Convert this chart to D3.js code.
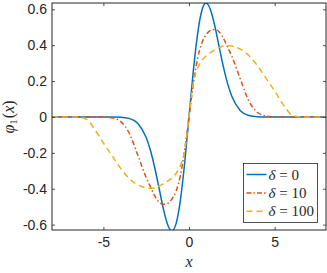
<!DOCTYPE html>
<html>
<head>
<meta charset="utf-8">
<script src="https://cdn.jsdelivr.net/npm/d3@7"></script>
<style>
  body { margin: 0; background: #fff; }
  svg { display: block; }
</style>
</head>
<body>
<main></main>
<script>
// x grid shared by all three curves
const xs = [-8, -7, -6.5, -6, -5.5, -5, -4.5, -4, -3.5, -3, -2.5, -2.25, -2, -1.75, -1.5, -1.25, -1, -0.75, -0.5, -0.25,
  0, 0.25, 0.5, 0.75, 1, 1.25, 1.5, 1.75, 2, 2.25, 2.5, 3, 3.5, 4, 4.5, 5, 5.5, 6, 6.5, 7, 8];

// delta = 0
const phiDelta0 = [0, 0, 0, 0, 0, 0, -0.0002, -0.0014, -0.008, -0.035, -0.115, -0.187, -0.283, -0.396, -0.51, -0.599, -0.635, -0.593, -0.462, -0.254,
  0, 0.254, 0.462, 0.593, 0.635, 0.599, 0.51, 0.396, 0.283, 0.187, 0.115, 0.035, 0.008, 0.0014, 0.0002, 0, 0, 0, 0, 0, 0];

// delta = 10
const phiDelta10 = [0, 0, 0, 0, 0, 0, -0.005, -0.025, -0.088, -0.21, -0.338, -0.39, -0.44, -0.475, -0.487, -0.482, -0.458, -0.412, -0.325, -0.18,
  0, 0.18, 0.325, 0.412, 0.458, 0.482, 0.487, 0.475, 0.44, 0.39, 0.338, 0.21, 0.088, 0.025, 0.005, 0, 0, 0, 0, 0, 0];

// delta = 100
const phiDelta100 = [0, 0, 0, -0.012, -0.07, -0.145, -0.215, -0.285, -0.342, -0.378, -0.395, -0.398, -0.395, -0.385, -0.373, -0.358, -0.34, -0.315, -0.27, -0.19,
  0, 0.19, 0.27, 0.315, 0.34, 0.358, 0.373, 0.385, 0.395, 0.398, 0.395, 0.378, 0.342, 0.285, 0.215, 0.145, 0.07, 0.012, 0, 0, 0];

const xTicks = [-5, 0, 5];
const yTicks = [-0.6, -0.4, -0.2, 0, 0.2, 0.4, 0.6];
const legendLabels = ["0", "10", "100"];

const seriesList = [
  { values: phiDelta0, color: "#0072bd", dash: null, legendDash: null },
  { values: phiDelta10, color: "#d95319", dash: "5,2.5,1.5,2.5", legendDash: "5,2,1.5,2" },
  { values: phiDelta100, color: "#edb120", dash: "6,4", legendDash: "6,4" },
];

draw(document.querySelector("main"));

function draw(el) {
  const W = 327, H = 273;
  const margin = { top: 3, right: 1, bottom: 43, left: 52 },
    width = W - margin.left - margin.right,
    height = H - margin.top - margin.bottom;
  const axisColor = "#262626";
  const tickFont = "'Liberation Sans', Arial, sans-serif";
  const mathFont = "'Liberation Serif', 'DejaVu Serif', serif";
  // MATLAB prints a plain hyphen for negative numbers
  const fmtX = (d) => String(d);
  const fmtY = (d) => (d === 0 ? "0" : d.toFixed(1));

  const svg = d3.select(el)
    .append("svg")
    .attr("width", W)
    .attr("height", H);

  const g = svg.append("g")
    .attr("transform", `translate(${margin.left},${margin.top})`);

  const x = d3.scaleLinear().domain([-8, 8]).range([0, width]);
  const y = d3.scaleLinear().domain([-0.63, 0.635]).range([height, 0]);

  g.append("clipPath").attr("id", "plot-clip")
    .append("rect").attr("width", width).attr("height", height);

  // curves
  const line = d3.line()
    .x((d) => x(d[0]))
    .y((d) => y(d[1]))
    .curve(d3.curveMonotoneX);

  const curves = g.append("g").attr("clip-path", "url(#plot-clip)");
  seriesList.forEach((s) => {
    curves.append("path")
      .datum(xs.map((v, i) => [v, s.values[i]]))
      .attr("fill", "none")
      .attr("stroke", s.color)
      .attr("stroke-width", 1.5)
      .attr("stroke-dasharray", s.dash)
      .attr("d", line);
  });

  // axes (MATLAB style: ticks inside, box on)
  const tickLen = 3;
  const xAxisB = g.append("g")
    .attr("transform", `translate(0,${height})`)
    .call(d3.axisBottom(x).tickValues(xTicks).tickSizeInner(-tickLen).tickSizeOuter(0).tickPadding(7).tickFormat(fmtX));
  const xAxisT = g.append("g")
    .call(d3.axisTop(x).tickValues(xTicks).tickSizeInner(-tickLen).tickSizeOuter(0).tickFormat(""));
  const yAxisL = g.append("g")
    .call(d3.axisLeft(y).tickValues(yTicks).tickSizeInner(-tickLen).tickSizeOuter(0).tickPadding(5).tickFormat(fmtY));
  const yAxisR = g.append("g")
    .attr("transform", `translate(${width},0)`)
    .call(d3.axisRight(y).tickValues(yTicks).tickSizeInner(-tickLen).tickSizeOuter(0).tickFormat(""));

  [xAxisB, xAxisT, yAxisL, yAxisR].forEach((a) => {
    a.select(".domain").remove();
    a.selectAll("line").attr("stroke", axisColor).attr("stroke-width", 0.8);
    a.selectAll("text")
      .attr("fill", axisColor)
      .attr("font-family", tickFont)
      .attr("font-size", "14px");
  });

  g.append("rect")
    .attr("width", width)
    .attr("height", height)
    .attr("fill", "none")
    .attr("stroke", axisColor)
    .attr("stroke-width", 1);

  // axis labels
  g.append("text")
    .attr("x", x(0))
    .attr("y", height + 37)
    .attr("text-anchor", "middle")
    .attr("font-family", mathFont)
    .attr("font-style", "italic")
    .attr("font-size", "16px")
    .attr("fill", axisColor)
    .text("x");

  const yLab = svg.append("text")
    .attr("transform", `translate(14,${margin.top + y(0)}) rotate(-90)`)
    .attr("text-anchor", "middle")
    .attr("font-family", mathFont)
    .attr("font-size", "16px")
    .attr("fill", axisColor);
  yLab.append("tspan").attr("font-style", "italic").text("φ");
  yLab.append("tspan").attr("font-size", "11px").attr("dy", 3).text("1");
  yLab.append("tspan").attr("dy", -3).attr("dx", 1).text("(");
  yLab.append("tspan").attr("font-style", "italic").text("x");
  yLab.append("tspan").text(")");

  // legend
  const legend = svg.append("g").attr("transform", "translate(243.5,163.5)");
  legend.append("rect")
    .attr("width", 74)
    .attr("height", 59)
    .attr("fill", "#fff")
    .attr("stroke", axisColor)
    .attr("stroke-width", 0.8);

  seriesList.forEach((s, i) => {
    const row = legend.append("g").attr("transform", `translate(0,${11 + i * 18.4})`);
    row.append("line")
      .attr("x1", 3).attr("x2", 23)
      .attr("stroke", s.color)
      .attr("stroke-width", 1.5)
      .attr("stroke-dasharray", s.legendDash);
    const t = row.append("text")
      .attr("x", 25)
      .attr("y", 5)
      .attr("font-family", mathFont)
      .attr("font-size", "15px")
      .attr("fill", axisColor);
    t.append("tspan").attr("font-style", "italic").text("δ");
    t.append("tspan").text(" = " + legendLabels[i]);
  });
}
</script>
</body>
</html>
